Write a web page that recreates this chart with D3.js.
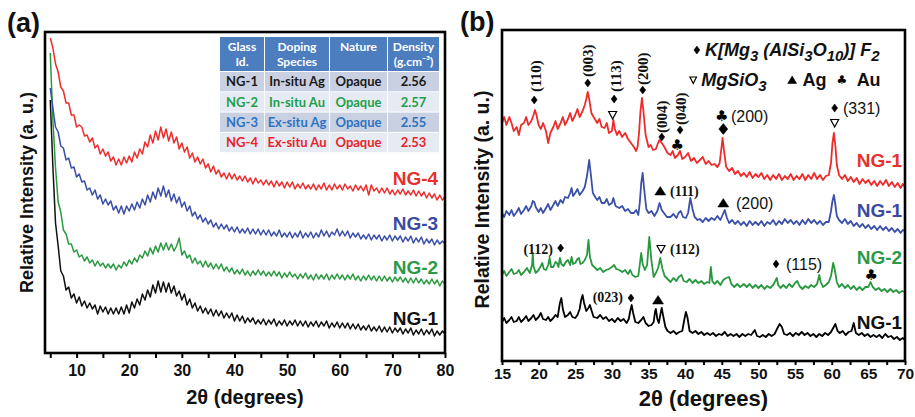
<!DOCTYPE html>
<html><head><meta charset="utf-8">
<script src="https://cdn.jsdelivr.net/npm/d3@7"></script>
<style>body{margin:0;background:#fff}svg{display:block}</style>
</head><body><svg id="c" width="915" height="417"></svg>
<script>
// ---------------- DATA ----------------
// Panel (a): 2θ measured every 0.5° from 5 to 80
const thetaA = d3.range(10, 161).map(i => i / 2);
const ng4A = [315,305,289,281,266,262,250,250,238,238,
226,228,226,217,218,211,215,205,208,199,
204,197,201,192,196,188,194,188,196,190,
197,191,201,195,204,199,211,206,218,210,
222,213,226,215,224,212,221,210,216,204,
210,201,206,195,200,191,196,189,194,185,
189,181,187,179,183,176,180,174,180,174,
179,173,177,172,177,171,175,169,175,170,
173,168,173,168,172,166,172,167,171,165,
171,166,171,164,169,165,170,164,168,164,
169,163,168,164,170,163,168,163,169,164,
168,163,169,164,167,162,168,163,167,162,
168,158,168,162,165,160,165,160,165,159,
163,158,163,159,164,158,162,158,163,157,
162,157,161,155,160,155,159,153,158,153,
156];
const ng3A = [265,245,226,221,207,205,193,195,185,186,
176,179,171,172,163,165,158,163,154,158,
149,154,148,152,143,147,140,147,139,147,
142,149,143,151,145,154,148,158,151,161,
154,165,157,167,156,163,152,159,150,156,
146,151,142,147,137,141,134,138,131,135,
129,133,126,130,124,129,124,128,122,126,
121,126,120,124,120,125,119,124,119,124,
118,123,118,123,117,121,117,123,116,120,
116,121,115,120,116,122,115,120,116,121,
115,120,116,123,117,122,116,121,118,124,
117,122,117,122,115,120,116,120,114,118,
114,119,113,118,114,118,112,117,113,118,
112,117,113,117,111,116,112,117,110,115,
111,116,109,114,110,114,108,113,109,112,
109];
const ng2A = [300,233,185,151,141,123,119,109,109,101,
103,96,98,92,96,90,93,87,92,87,
90,85,89,85,89,83,88,85,91,87,
93,89,95,91,98,95,102,97,105,99,
107,101,110,103,110,103,109,102,107,115,
98,102,95,98,90,95,89,92,86,92,
86,90,84,89,84,89,82,86,81,85,
79,83,79,84,78,82,77,82,78,83,
78,82,77,81,77,82,77,81,75,80,
76,81,76,79,74,79,75,80,74,78,
73,79,74,78,74,79,73,78,74,79,
74,78,73,78,74,79,73,77,72,77,
73,78,73,77,72,77,72,77,72,76,
71,76,72,76,71,75,70,75,70,75,
70,74,69,73,69,74,69,73,67,72,
69];
const ng1A = [253,186,130,107,82,77,63,66,55,59,
50,56,47,52,45,50,44,48,39,47,
41,46,39,45,39,45,39,46,39,48,
40,51,45,54,48,59,53,63,56,68,
60,72,61,71,61,70,60,67,57,62,
53,59,48,54,45,50,42,47,40,45,
39,44,37,43,37,42,35,40,35,40,
32,38,32,37,30,35,31,35,29,33,
29,34,28,33,29,34,27,32,28,33,
27,32,28,33,27,32,27,32,26,31,
27,32,26,31,27,32,25,30,26,31,
25,30,25,30,24,29,24,29,23,27,
23,28,22,26,22,27,21,26,21,26,
20,25,21,25,19,24,20,25,18,23,
19,24,18,23,19,24,17,22,18,22,
19];

// Panel (b): [2θ, intensity] pairs
const redB = [[15,238],[15.3,244],[15.6,236],[16,244],[16.3,238],[16.6,230],[17,234],[17.3,226],[17.6,236],[18,238],[18.3,244],[18.6,236],[19,240],[19.3,246],[19.5,251],[19.7,246],[20,236],[20.3,232],[20.6,238],[21,230],[21.3,218],[21.6,228],[22,234],[22.3,240],[22.6,232],[23,238],[23.3,244],[23.6,236],[24,242],[24.3,248],[24.6,240],[25,246],[25.3,252],[25.6,244],[26,250],[26.3,256],[26.5,262],[26.7,269],[26.9,262],[27.2,248],[27.5,244],[28,238],[28.3,242],[28.6,234],[29,233],[29.3,238],[29.6,228],[30,230],[30.2,241],[30.4,232],[30.7,226],[31,230],[31.4,224],[31.8,228],[32.2,222],[32.6,218],[33,214],[33.3,210],[33.5,214],[33.7,228],[33.9,250],[34.1,263],[34.3,250],[34.6,226],[35,214],[35.3,216],[35.6,211],[36,212],[36.3,218],[36.5,221],[36.8,218],[37,216],[37.3,212],[37.6,208],[38,206],[38.3,210],[38.6,203],[39,206],[39.3,210],[39.6,202],[40,204],[40.4,208],[40.8,200],[41.2,203],[41.6,198],[42,201],[42.4,204],[42.8,197],[43.2,200],[43.6,196],[44,197],[44.4,194],[44.7,198],[44.9,210],[45.1,223],[45.3,210],[45.6,194],[46,190],[46.4,193],[46.8,187],[47.2,190],[47.6,185],[48,188],[48.4,184],[48.8,189],[49.2,183],[49.6,187],[50,184],[50.4,188],[50.8,182],[51.2,186],[51.6,181],[52,186],[52.4,182],[52.8,187],[53.2,181],[53.6,185],[54,182],[54.4,187],[54.8,181],[55.2,185],[55.6,182],[56,187],[56.4,181],[56.8,186],[57.2,182],[57.6,188],[58,182],[58.4,186],[58.8,181],[59.2,185],[59.6,186],[59.9,198],[60.1,218],[60.3,228],[60.5,215],[60.7,196],[61,186],[61.4,182],[61.8,186],[62.2,180],[62.6,184],[63,179],[63.4,183],[63.8,177],[64.2,182],[64.6,178],[65,181],[65.4,176],[65.8,180],[66.2,175],[66.6,180],[67,176],[67.4,181],[67.8,175],[68.2,179],[68.6,174],[69,178],[69.4,173],[69.7,177],[70,174]];
const blueB = [[15,148],[15.3,144],[15.6,150],[16,146],[16.3,151],[16.6,145],[17,149],[17.3,153],[17.6,147],[18,151],[18.3,155],[18.6,150],[19,155],[19.2,160],[19.4,159],[19.6,154],[20,149],[20.3,153],[20.6,148],[21,153],[21.3,157],[21.6,151],[22,156],[22.3,160],[22.6,155],[23,161],[23.3,158],[23.6,164],[24,163],[24.3,168],[24.5,173],[24.7,165],[25,168],[25.3,172],[25.6,166],[26,170],[26.3,174],[26.6,185],[26.9,201],[27.1,188],[27.4,168],[27.8,163],[28,161],[28.3,164],[28.6,158],[29,158],[29.3,162],[29.6,156],[30,158],[30.2,163],[30.5,155],[31,153],[31.4,155],[31.8,150],[32.2,152],[32.6,148],[33,148],[33.3,151],[33.6,146],[33.8,158],[34,178],[34.2,188],[34.4,172],[34.7,152],[35,148],[35.4,150],[35.8,145],[36.2,150],[36.5,158],[36.8,151],[37.1,148],[37.5,144],[38,144],[38.4,147],[38.8,143],[39.1,148],[39.4,150],[39.7,144],[40.1,143],[40.4,148],[40.7,163],[41,152],[41.3,144],[41.7,141],[42,142],[42.4,139],[42.8,143],[43.2,140],[43.6,143],[44,141],[44.4,145],[44.8,141],[45.1,146],[45.4,151],[45.7,143],[46,138],[46.4,141],[46.8,137],[47.2,140],[47.6,136],[48,139],[48.4,135],[48.8,140],[49.2,136],[49.6,139],[50,136],[50.4,140],[50.8,135],[51.2,139],[51.6,137],[52,141],[52.4,136],[52.8,140],[53.2,137],[53.6,142],[54,138],[54.4,141],[54.8,137],[55.2,140],[55.6,136],[56,141],[56.4,137],[56.8,142],[57.2,138],[57.6,141],[58,137],[58.4,140],[58.8,136],[59.2,139],[59.6,139],[59.9,150],[60.1,160],[60.3,166],[60.5,156],[60.7,145],[61,141],[61.4,138],[61.8,142],[62.2,137],[62.6,140],[63,135],[63.4,138],[63.8,134],[64.2,137],[64.6,133],[65,136],[65.4,132],[65.8,135],[66.2,131],[66.6,135],[67,131],[67.4,134],[67.8,130],[68.2,133],[68.6,129],[69,132],[69.4,128],[69.7,131],[70,130]];
const greenB = [[15,86],[15.3,90],[15.6,85],[16,89],[16.3,92],[16.6,87],[17,88],[17.3,91],[17.6,86],[18,89],[18.4,93],[18.8,88],[19.1,96],[19.2,108],[19.3,95],[19.6,88],[20,91],[20.3,95],[20.5,98],[20.7,92],[21,91],[21.3,96],[21.5,103],[21.7,94],[22,94],[22.3,99],[22.5,98],[22.7,94],[22.9,103],[23.1,97],[23.4,95],[23.7,99],[24,101],[24.3,96],[24.5,104],[24.7,97],[25,98],[25.3,102],[25.5,103],[25.7,97],[26,98],[26.3,101],[26.6,106],[26.8,121],[27,104],[27.3,96],[27.6,94],[28,91],[28.4,93],[28.8,89],[29.2,91],[29.6,92],[30,94],[30.3,96],[30.6,92],[31,91],[31.4,89],[31.8,91],[32.2,87],[32.5,91],[32.8,86],[33.2,84],[33.6,85],[33.8,96],[34,108],[34.2,97],[34.5,91],[34.8,96],[35.1,124],[35.4,100],[35.7,84],[36,88],[36.3,93],[36.6,103],[36.9,92],[37.2,85],[37.6,82],[38,79],[38.4,83],[38.8,80],[39.1,84],[39.5,86],[39.8,80],[40.2,79],[40.6,82],[41,78],[41.4,81],[41.8,78],[42.2,80],[42.6,77],[43,79],[43.3,78],[43.5,94],[43.7,80],[44,77],[44.4,80],[44.8,76],[45.2,81],[45.6,83],[46,84],[46.3,77],[46.7,74],[47.1,77],[47.5,74],[48,77],[48.4,74],[48.8,77],[49.2,73],[49.6,76],[50,73],[50.4,76],[50.8,72],[51.2,75],[51.6,73],[52,76],[52.3,80],[52.5,83],[52.7,76],[53,73],[53.4,76],[53.8,73],[54.2,77],[54.6,74],[55,78],[55.3,80],[55.6,75],[56,72],[56.4,75],[56.8,73],[57.2,76],[57.6,74],[58,77],[58.3,86],[58.5,79],[58.8,74],[59.2,76],[59.6,79],[59.9,85],[60.2,98],[60.4,92],[60.7,79],[61,74],[61.4,77],[61.8,73],[62.2,76],[62.6,72],[63,75],[63.4,71],[63.8,74],[64.2,71],[64.6,74],[65,74],[65.3,79],[65.6,74],[66,71],[66.4,73],[66.8,70],[67.2,72],[67.6,69],[68,72],[68.4,69],[68.8,71],[69.2,68],[69.6,70],[70,69]];
const blackB = [[15,39],[15.3,43],[15.6,38],[16,41],[16.3,44],[16.6,39],[17,40],[17.3,44],[17.6,39],[18,42],[18.3,45],[18.6,40],[19,43],[19.3,46],[19.6,41],[20,44],[20.3,48],[20.6,42],[21,41],[21.3,44],[21.6,40],[22,43],[22.3,46],[22.6,44],[22.9,58],[23.1,63],[23.3,52],[23.6,44],[24,46],[24.3,49],[24.6,44],[25,43],[25.3,46],[25.6,52],[25.8,61],[26,66],[26.2,58],[26.5,50],[26.8,53],[27,56],[27.2,51],[27.5,44],[28,43],[28.4,46],[28.8,42],[29.2,44],[29.6,40],[30,42],[30.4,39],[30.8,43],[31.2,40],[31.6,42],[32,38],[32.3,42],[32.5,50],[32.7,56],[32.9,48],[33.2,39],[33.6,38],[34,41],[34.3,44],[34.6,38],[35,35],[35.4,36],[35.7,39],[35.9,50],[36,52],[36.2,42],[36.4,38],[36.6,46],[36.8,53],[37,45],[37.3,34],[37.6,30],[38,28],[38.4,30],[38.8,27],[39.2,29],[39.6,30],[39.9,42],[40.1,49],[40.3,44],[40.6,30],[41,28],[41.4,30],[41.8,27],[42.2,29],[42.6,26],[43,28],[43.4,26],[43.8,28],[44.2,25],[44.6,27],[45,26],[45.4,29],[45.8,25],[46.2,27],[46.6,25],[47,27],[47.4,24],[47.8,27],[48.2,25],[48.6,27],[49,26],[49.5,31],[49.8,25],[50.2,24],[50.6,26],[51,24],[51.4,27],[51.8,25],[52.2,27],[52.6,33],[52.9,37],[53.2,34],[53.5,27],[53.9,26],[54.3,28],[54.7,25],[55.1,28],[55.5,26],[55.9,29],[56.3,26],[56.7,28],[57.1,25],[57.5,27],[57.9,24],[58.3,27],[58.7,25],[59.1,28],[59.5,26],[59.9,29],[60.2,33],[60.5,37],[60.8,30],[61.1,28],[61.5,30],[61.9,26],[62.3,29],[62.7,30],[63,38],[63.3,28],[63.7,26],[64.1,28],[64.5,25],[64.9,27],[65.3,24],[65.7,26],[66.1,24],[66.5,26],[66.9,23],[67.3,27],[67.7,24],[68.1,25],[68.5,22],[68.9,24],[69.3,21],[69.7,23],[70,21]];

// Table in panel (a)
const tableHeader = [["Glass","Id."],["Doping","Species"],["Nature"],["Density","(g.cm\u207B\u00B3)"]];
const tableRows = [
  ["NG-1","In-situ Ag","Opaque","2.56"],
  ["NG-2","In-situ Au","Opaque","2.57"],
  ["NG-3","Ex-situ Ag","Opaque","2.55"],
  ["NG-4","Ex-situ Au","Opaque","2.53"]
];
const ticksA = d3.range(5, 81, 5);
const ticksB = d3.range(15, 70.01, 2.5);

// annotations in panel (b): [glyph, 2θ, intensity]
const glyphsB = [
  ["dia",19.4,261],["dia",26.7,278],["dia",30.3,262],["tri",30.1,246],["dia",34.2,271],
  ["dia",36.8,224],["dia",39.3,231],["club",38.9,216],["club",45.0,245],["bigdia",45.2,232],
  ["dia",60.4,253],["tri",60.4,238],["up",36.6,170],["up",45.2,158],["dia",23.0,113],
  ["tri",36.7,112],["dia",52.4,97],["club",65.4,86],["dia",32.6,63],["up",36.3,61],
  ["dia",41.6,311],["stri",41.1,281],["sup",54.6,281],["sclub",61.4,281]
];
// rotated hkl labels: [text, 2θ, intensity at lower end]
const hklRot = [["(110)",19.6,269],["(003)",26.7,284],["(113)",30.6,269],["(200)",34.2,276],["(004)",36.8,228],["(040)",39.4,236]];
// horizontal hkl labels: [text, 2θ, intensity, anchor, font]
const hklFlat = [
  ["(200)",46.25,245,"start","sans"],["(331)",61.54,253,"start","sans"],
  ["(111)",37.93,170,"start","serif"],["(200)",46.94,158,"start","sans"],
  ["(112)",21.96,112,"end","serif"],["(112)",37.93,112,"start","serif"],
  ["(115)",53.76,97,"start","sans"],["(023)",31.51,64,"end","serif"]
];

// ---------------- DRAWING ----------------
const SANS = "'Liberation Sans', Arial, Helvetica, sans-serif";
const SERIF = "'Liberation Serif', 'Times New Roman', serif";
const svg = d3.select("#c");
svg.append("rect").attr("width",915).attr("height",417).attr("fill","#fff");

function panel(box, xDom, yDom, id) {
  const x = d3.scaleLinear().domain(xDom).range([box.l, box.r]);
  const y = d3.scaleLinear().domain(yDom).range([box.b, box.t]);
  svg.append("clipPath").attr("id", id).append("rect")
    .attr("x", box.l).attr("y", box.t).attr("width", box.r - box.l).attr("height", box.b - box.t);
  return {x, y};
}

// ===== Panel (a) =====
const A = {l:45, r:445, t:32, b:353};
const pa = panel(A, [4,80], [0,321], "clipA");
const seriesA = [
  {vals: ng1A, color:"#111111", label:"NG-1", lv:35, lc:"#111"},
  {vals: ng2A, color:"#2a9a40", label:"NG-2", lv:86, lc:"#2b9a48"},
  {vals: ng3A, color:"#3b4fa8", label:"NG-3", lv:130, lc:"#3a4aa2"},
  {vals: ng4A, color:"#ee2d2d", label:"NG-4", lv:175, lc:"#e8302e"}
];
const gA = svg.append("g").attr("clip-path","url(#clipA)");
seriesA.forEach(s => {
  const line = d3.line().x((d,i) => pa.x(thetaA[i])).y(d => pa.y(d));
  gA.append("path").attr("d", line(s.vals)).attr("fill","none")
    .attr("stroke", s.color).attr("stroke-width",1.5).attr("stroke-linejoin","round");
});
seriesA.forEach(s => {
  svg.append("text").attr("x", pa.x(78.7)).attr("y", pa.y(s.lv)).attr("dy","0.36em")
    .attr("text-anchor","end").attr("font-family",SANS).attr("font-weight","bold")
    .attr("font-size",19).attr("fill",s.lc).text(s.label);
});

// table
const colX = [220, 265, 330, 388, 440];
const headT = 37, headB = 72, rowH = 20.3;
const rowFill = ["#c8d0e2","#e6eaf3","#c8d0e2","#e6eaf3"];
const rowText = ["#1a1a1a","#1fa04a","#2e73c2","#e7252b"];
const TF = "Lato, 'Open Sans', sans-serif";
const tg = svg.append("g");
tableHeader.forEach((h,j) => {
  tg.append("rect").attr("x",colX[j]).attr("y",headT).attr("width",colX[j+1]-colX[j]-1)
    .attr("height",headB-headT-1).attr("fill","#4b7dbf");
  h.forEach((t,k) => tg.append("text").attr("x",(colX[j]+colX[j+1])/2-0.5).attr("y",headT+10+k*15)
    .attr("dy","0.35em").attr("text-anchor","middle").attr("font-family",TF).attr("font-weight","bold")
    .attr("font-size",12).attr("fill","#fff").text(t));
});
tableRows.forEach((r,i) => {
  r.forEach((t,j) => {
    const y0 = headB + i*rowH;
    tg.append("rect").attr("x",colX[j]).attr("y",y0).attr("width",colX[j+1]-colX[j]-1)
      .attr("height",rowH-1).attr("fill",rowFill[i]);
    tg.append("text").attr("x",(colX[j]+colX[j+1])/2-0.5).attr("y",y0+rowH/2-0.5).attr("dy","0.35em")
      .attr("text-anchor","middle").attr("font-family",TF).attr("font-weight","bold")
      .attr("font-size",13).attr("fill",rowText[i]).text(t);
  });
});

// axis a
const axA = d3.axisBottom(pa.x).tickValues(ticksA).tickSize(5).tickPadding(7)
  .tickFormat(d => d % 10 === 0 ? d : "");
const gxA = svg.append("g").attr("transform",`translate(0,${A.b})`).call(axA);
gxA.select(".domain").remove();
gxA.selectAll("line").attr("stroke","#000").attr("stroke-width",2);
gxA.selectAll("text").attr("font-family",SANS).attr("font-weight","bold").attr("font-size",16).attr("fill","#111");
svg.append("rect").attr("x",A.l).attr("y",A.t).attr("width",A.r-A.l).attr("height",A.b-A.t)
  .attr("fill","none").attr("stroke","#000").attr("stroke-width",2.6);
svg.append("text").attr("x",(A.l+A.r)/2).attr("y",404).attr("text-anchor","middle")
  .attr("font-family",SANS).attr("font-weight","bold").attr("font-size",20).attr("fill","#111").text("2\u03B8 (degrees)");
svg.append("text").attr("transform",`translate(33,${(A.t+A.b)/2}) rotate(-90)`).attr("text-anchor","middle")
  .attr("font-family",SANS).attr("font-weight","bold").attr("font-size",18).attr("fill","#111")
  .text("Relative Intensity (a. u.)");
svg.append("text").attr("x",7).attr("y",32).attr("font-family",SANS).attr("font-weight","bold")
  .attr("font-size",27).attr("fill","#111").text("(a)");

// ===== Panel (b) =====
const B = {l:502, r:905, t:30, b:361};
const pb = panel(B, [15,70], [0,331], "clipB");
const seriesB = [
  {vals: blackB, color:"#000", label:"NG-1", lv:39, lc:"#111"},
  {vals: greenB, color:"#28983f", label:"NG-2", lv:104, lc:"#2b9a48"},
  {vals: blueB, color:"#3b50a8", label:"NG-1", lv:151, lc:"#3a4aa2"},
  {vals: redB, color:"#ee2b2b", label:"NG-1", lv:201, lc:"#e8302e"}
];
const gB = svg.append("g").attr("clip-path","url(#clipB)");
const lineB = d3.line().x(d => pb.x(d[0])).y(d => pb.y(d[1]));
seriesB.forEach(s => {
  gB.append("path").attr("d", lineB(s.vals)).attr("fill","none").attr("stroke",s.color)
    .attr("stroke-width",1.8).attr("stroke-linejoin","round");
});
seriesB.forEach(s => {
  svg.append("text").attr("x", pb.x(69.6)).attr("y", pb.y(s.lv)).attr("dy","0.36em")
    .attr("text-anchor","end").attr("font-family",SANS).attr("font-weight","bold")
    .attr("font-size",19).attr("fill",s.lc).text(s.label);
});

// glyphs
const shapes = {
  dia: "M0,-4L3,0L0,4L-3,0Z",
  bigdia: "M0,-5.5L4.5,0L0,5.5L-4.5,0Z",
  tri: "M-4,-3.5L4,-3.5L0,4Z",
  stri: "M-3.3,-3L3.3,-3L0,3.5Z",
  up: "M-5.5,4L5.5,4L0,-4.5Z",
  sup: "M-4.5,3.5L4.5,3.5L0,-4Z"
};
glyphsB.forEach(([g,t,v]) => {
  const cx = pb.x(t), cy = pb.y(v);
  if (g === "club" || g === "sclub") {
    svg.append("text").attr("x",cx).attr("y",cy).attr("dy","0.35em").attr("text-anchor","middle")
      .attr("font-family","'DejaVu Sans', sans-serif").attr("font-size", g === "club" ? 15 : 12)
      .attr("fill","#000").text("\u2663");
  } else {
    const hollow = g === "tri" || g === "stri";
    svg.append("path").attr("transform",`translate(${cx},${cy})`).attr("d",shapes[g])
      .attr("fill", hollow ? "#fff" : "#000").attr("stroke","#000")
      .attr("stroke-width", hollow ? 1.2 : 0.5);
  }
});
hklRot.forEach(([t,th,v]) => {
  svg.append("text").attr("transform",`translate(${pb.x(th)},${pb.y(v)}) rotate(-90)`)
    .attr("dy","0.33em").attr("text-anchor","start").attr("font-family",SERIF).attr("font-weight","bold")
    .attr("font-size",15).attr("fill","#111").text(t);
});
hklFlat.forEach(([t,th,v,anc,f]) => {
  svg.append("text").attr("x",pb.x(th)).attr("y",pb.y(v)).attr("dy","0.35em").attr("text-anchor",anc)
    .attr("font-family", f === "serif" ? SERIF : SANS).attr("font-weight", f === "serif" ? "bold" : "normal")
    .attr("font-size", f === "serif" ? 14 : 16).attr("fill","#111").text(t);
});
// legend formulas with subscripts
function formula(x, y, parts) {
  const t = svg.append("text").attr("x",x).attr("y",y).attr("font-family",SANS)
    .attr("font-weight","bold").attr("font-style","italic").attr("font-size",18).attr("fill","#111");
  let cur = 0;
  parts.forEach(([s, sub]) => {
    const target = sub ? 5 : 0;
    t.append("tspan").attr("dy", target - cur).attr("font-size", sub ? 15 : 18).text(s);
    cur = target;
  });
  return t;
}
formula(pb.x(42.7), pb.y(311)+6, [["K[Mg",0],["3",1],[" (AlSi",0],["3",1],["O",0],["10",1],[")] F",0],["2",1]]);
formula(pb.x(42.2), pb.y(281)+6, [["MgSiO",0],["3",1]]);
svg.append("text").attr("x",pb.x(56.0)).attr("y",pb.y(281)+6).attr("font-family",SANS).attr("font-weight","bold")
  .attr("font-size",18).attr("fill","#111").text("Ag");
svg.append("text").attr("x",pb.x(63.4)).attr("y",pb.y(281)+6).attr("font-family",SANS).attr("font-weight","bold")
  .attr("font-size",18).attr("fill","#111").text("Au");

// axis b
const axB = d3.axisBottom(pb.x).tickValues(ticksB).tickSize(4).tickPadding(3)
  .tickFormat(d => d % 5 === 0 ? d : "");
const gxB = svg.append("g").attr("transform",`translate(0,${B.b})`).call(axB);
gxB.select(".domain").remove();
gxB.selectAll("line").attr("stroke","#000").attr("stroke-width",2);
gxB.selectAll("text").attr("font-family",SANS).attr("font-weight","bold").attr("font-size",15.5).attr("fill","#111");
svg.append("rect").attr("x",B.l).attr("y",B.t).attr("width",B.r-B.l).attr("height",B.b-B.t)
  .attr("fill","none").attr("stroke","#000").attr("stroke-width",2.6);
svg.append("text").attr("x",(B.l+B.r)/2).attr("y",406).attr("text-anchor","middle")
  .attr("font-family",SANS).attr("font-weight","bold").attr("font-size",22).attr("fill","#111").text("2\u03B8 (degrees)");
svg.append("text").attr("transform",`translate(489,${(B.t+B.b)/2+4}) rotate(-90)`).attr("text-anchor","middle")
  .attr("font-family",SANS).attr("font-weight","bold").attr("font-size",19.5).attr("fill","#111")
  .text("Relative Intensity (a. u.)");
svg.append("text").attr("x",460).attr("y",31).attr("font-family",SANS).attr("font-weight","bold")
  .attr("font-size",27).attr("fill","#111").text("(b)");
</script></body></html>
